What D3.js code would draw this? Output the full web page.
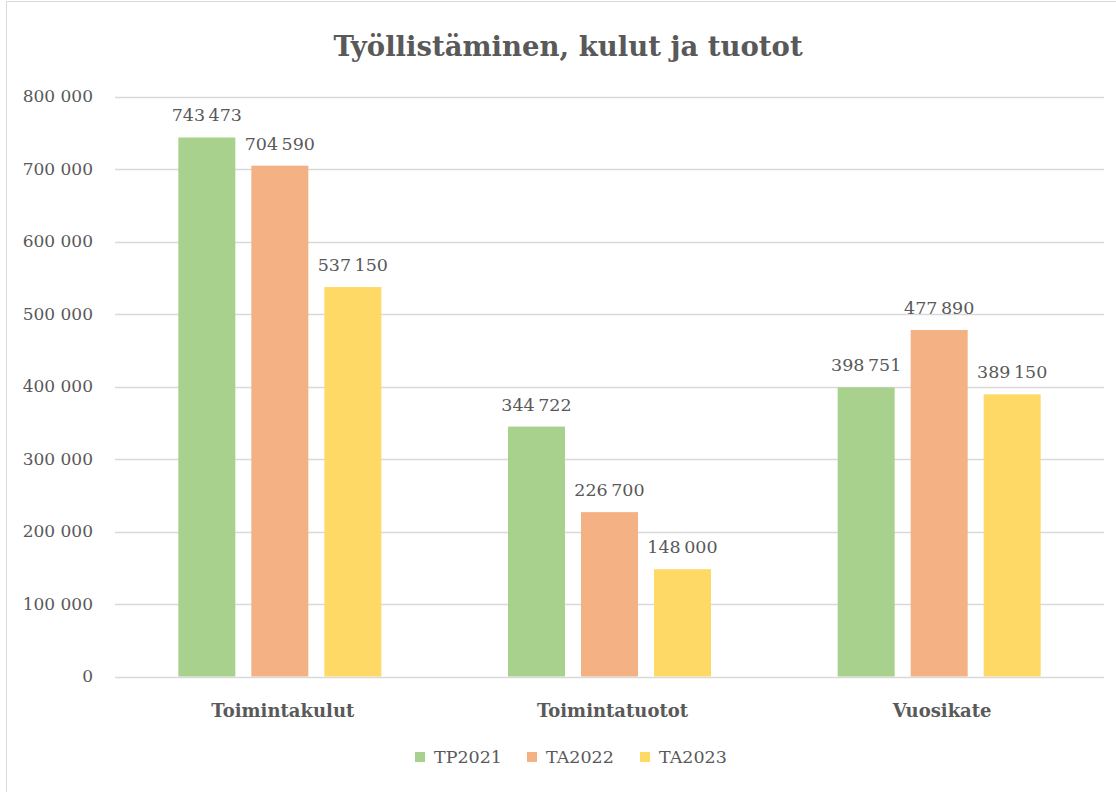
<!DOCTYPE html>
<html>
<head>
<meta charset="utf-8">
<script src="https://cdn.jsdelivr.net/npm/d3@7"></script>
<style>
  body { margin: 0; background: #fff; }
  svg { display: block; }
  text { font-family: "DejaVu Serif", "Liberation Serif", serif; fill: #595959; }
</style>
</head>
<body>
<svg id="chart" width="1116" height="792"></svg>
<script>
// chart data
const categories = ['Toimintakulut', 'Toimintatuotot', 'Vuosikate'];
const seriesNames = ['TP2021', 'TA2022', 'TA2023'];
const TP2021 = [743473, 344722, 398751];
const TA2022 = [704590, 226700, 477890];
const TA2023 = [537150, 148000, 389150];
const yTicks = [0, 100000, 200000, 300000, 400000, 500000, 600000, 700000, 800000];
const colors = ['#a9d18e', '#f4b183', '#ffd966'];

const seriesValues = [TP2021, TA2022, TA2023];

const svg = d3.select('#chart');
const plotLeft = 115, plotRight = 1104, plotTop = 96.5, plotBottom = 676.5;

// thousands with a space, like the original
const fmt = d3.formatLocale({ decimal: ',', thousands: '\u2009', grouping: [3], currency: ['', ''] }).format(',d');
const fmtTick = d3.formatLocale({ decimal: ',', thousands: ' ', grouping: [3], currency: ['', ''] }).format(',d');

// outer frame
svg.append('rect')
    .attr('x', 6.5).attr('y', 1.5)
    .attr('width', 1120).attr('height', 800)
    .attr('fill', 'none').attr('stroke', '#d9d9d9');

const y = d3.scaleLinear().domain([0, 800000]).range([plotBottom, plotTop]);
const x0 = d3.scaleBand().domain(categories).range([plotLeft, plotRight]);
const groupW = 203;
const x1 = d3.scaleBand().domain(seriesNames).range([0, groupW]).paddingInner(16 / 73);

// gridlines + tick labels
svg.append('g').selectAll('line')
    .data(yTicks)
    .join('line')
    .attr('x1', plotLeft).attr('x2', plotRight)
    .attr('y1', d => Math.round(y(d)) + 0.5).attr('y2', d => Math.round(y(d)) + 0.5)
    .attr('stroke', '#d9d9d9').attr('stroke-width', 1.5);

svg.append('g').selectAll('text')
    .data(yTicks)
    .join('text')
    .attr('x', 93).attr('y', d => y(d))
    .attr('dy', '0.35em')
    .attr('text-anchor', 'end')
    .style('font-size', '17px')
    .text(d => fmtTick(d));

// bars
const rows = categories.map((c, i) => ({ cat: c, vals: seriesNames.map((s, j) => ({ s, j, v: seriesValues[j][i] })) }));
const groups = svg.append('g').selectAll('g')
    .data(rows)
    .join('g')
    .attr('transform', d => `translate(${x0(d.cat) + (x0.bandwidth() - groupW) / 2},0)`);

groups.selectAll('rect')
    .data(d => d.vals)
    .join('rect')
    .attr('x', d => x1(d.s))
    .attr('y', d => y(d.v))
    .attr('width', x1.bandwidth())
    .attr('height', d => y(0) - y(d.v))
    .attr('fill', d => colors[d.j]);

groups.selectAll('text')
    .data(d => d.vals)
    .join('text')
    .attr('x', d => x1(d.s) + x1.bandwidth() / 2)
    .attr('y', d => y(d.v) - 16)
    .attr('text-anchor', 'middle')
    .style('font-size', '17.5px')
    .text(d => fmt(d.v));

// category labels
svg.append('g').selectAll('text')
    .data(categories)
    .join('text')
    .attr('x', d => x0(d) + x0.bandwidth() / 2 + 3)
    .attr('y', 717)
    .attr('text-anchor', 'middle')
    .style('font-size', '18px')
    .style('font-weight', 'bold')
    .text(d => d);

// title
svg.append('text')
    .attr('x', 568).attr('y', 56)
    .attr('text-anchor', 'middle')
    .style('font-size', '27.5px')
    .style('font-weight', 'bold')
    .text('Työllistäminen, kulut ja tuotot');

// legend
const legendX = [415, 527, 640];
const leg = svg.append('g').selectAll('g')
    .data(seriesNames)
    .join('g')
    .attr('transform', (d, i) => `translate(${legendX[i]},752)`);
leg.append('rect').attr('width', 10).attr('height', 10).attr('fill', (d, i) => colors[i]);
leg.append('text').attr('x', 19).attr('y', 5).attr('dy', '0.35em')
    .style('font-size', '17.5px').text(d => d);
</script>
</body>
</html>
